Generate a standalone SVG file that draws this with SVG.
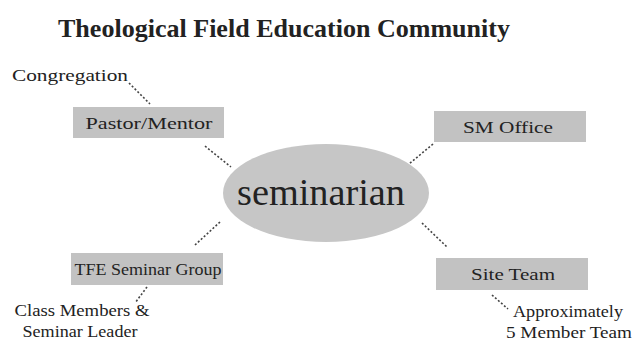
<svg xmlns="http://www.w3.org/2000/svg" width="633" height="343" viewBox="0 0 633 343">
<style>
text{font-family:"Liberation Serif","Times New Roman",serif;fill:#222}
.box{fill:#c2c2c2}
.lbl{font-size:17px;text-anchor:middle}
.note{font-size:17px;text-anchor:middle}
.dot{stroke:#444;stroke-width:1.6;stroke-dasharray:2 2;fill:none}
</style>
<rect width="633" height="343" fill="#fff"/>
<text x="284" y="37" textLength="452" lengthAdjust="spacingAndGlyphs" style="font-size:26px;font-weight:bold;text-anchor:middle">Theological Field Education Community</text>
<g id="connectors">
<line class="dot" x1="129" y1="83" x2="150" y2="104"/>
<line class="dot" x1="205" y1="146" x2="231" y2="167"/>
<line class="dot" x1="433" y1="144" x2="409" y2="164"/>
<line class="dot" x1="220" y1="222" x2="195" y2="245"/>
<line class="dot" x1="422" y1="223" x2="447" y2="247"/>
<line class="dot" x1="147" y1="287" x2="135" y2="303"/>
<line class="dot" x1="492" y1="295" x2="508" y2="309"/>
</g>
<g id="seminarian">
<ellipse cx="326" cy="193" rx="103" ry="49" fill="#c6c6c6"/>
<text x="321" y="205" textLength="168" lengthAdjust="spacingAndGlyphs" style="font-size:37px;text-anchor:middle">seminarian</text>
</g>
<g id="pastor">
<rect class="box" x="73" y="107" width="151" height="31"/>
<text class="lbl" x="149" y="129" textLength="127" lengthAdjust="spacingAndGlyphs">Pastor/Mentor</text>
</g>
<g id="smoffice">
<rect class="box" x="434" y="111" width="152" height="31"/>
<text class="lbl" x="508" y="133" textLength="90" lengthAdjust="spacingAndGlyphs">SM Office</text>
</g>
<g id="tfe">
<rect class="box" x="71" y="253" width="152" height="32"/>
<text class="lbl" x="148" y="275" textLength="147" lengthAdjust="spacingAndGlyphs" style="font-size:16px">TFE Seminar Group</text>
</g>
<g id="siteteam">
<rect class="box" x="436" y="258" width="152" height="32"/>
<text class="lbl" x="513" y="280" textLength="84" lengthAdjust="spacingAndGlyphs">Site Team</text>
</g>
<g id="congregation"><text class="note" x="70" y="81" textLength="116" lengthAdjust="spacingAndGlyphs">Congregation</text></g>
<g id="classmembers">
<text class="note" x="82" y="316" textLength="135" lengthAdjust="spacingAndGlyphs">Class Members &amp;</text>
<text class="note" x="80" y="337" textLength="115" lengthAdjust="spacingAndGlyphs">Seminar Leader</text>
</g>
<g id="approx">
<text class="note" x="568" y="317" textLength="110" lengthAdjust="spacingAndGlyphs">Approximately</text>
<text class="note" x="569" y="338" textLength="126" lengthAdjust="spacingAndGlyphs">5 Member Team</text>
</g>
</svg>
